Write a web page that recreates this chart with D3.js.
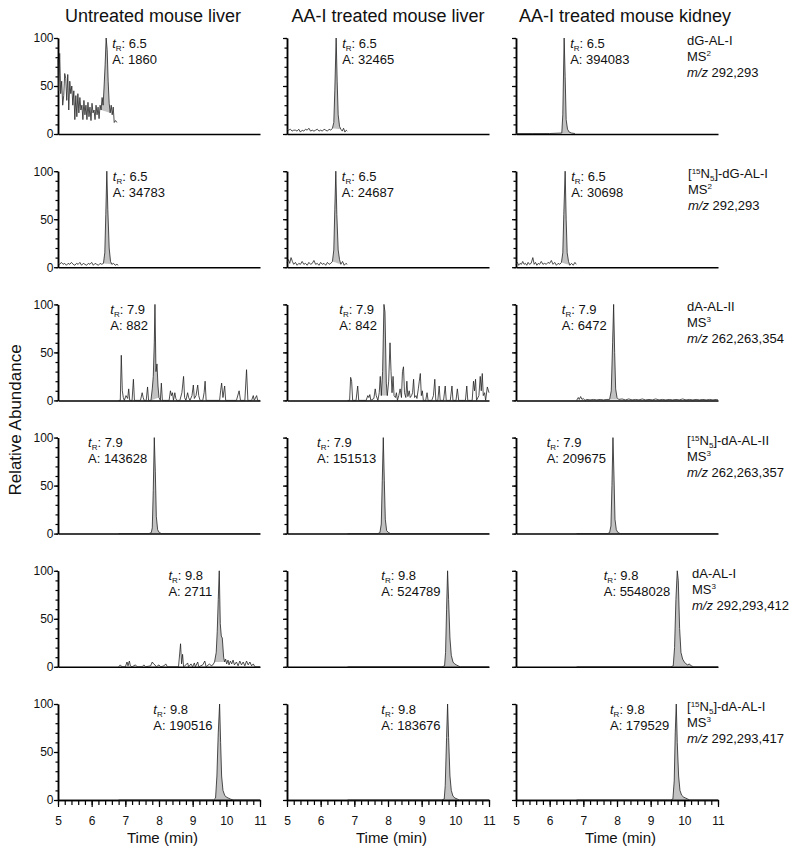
<!DOCTYPE html>
<html>
<head>
<meta charset="utf-8">
<script src="https://d3js.org/d3.v7.min.js"></script>
<style>
  body { margin: 0; background: #fff; }
  svg text { font-family: "Liberation Sans", Arial, sans-serif; fill: #111; }
</style>
</head>
<body>
<svg id="chart" width="800" height="856"></svg>
<script>
// ---- data ----
const samples = ["Untreated mouse liver", "AA-I treated mouse liver", "AA-I treated mouse kidney"];
const adducts = ["dG-AL-I", "[15N5]-dG-AL-I", "dA-AL-II", "[15N5]-dA-AL-II", "dA-AL-I", "[15N5]-dA-AL-I"];
const msLevels = ["2", "2", "3", "3", "3", "3"];
const mzValues = ["292,293", "292,293", "262,263,354", "262,263,357", "292,293,412", "292,293,417"];
const retention = ["6.5", "6.5", "7.9", "7.9", "9.8", "9.8"];
const peakAreas = [
  [1860, 32465, 394083],
  [34783, 24687, 30698],
  [882, 842, 6472],
  [143628, 151513, 209675],
  [2711, 524789, 5548028],
  [190516, 183676, 179529]
];
// integrated window (min) of each peak
const peakWindows = [
  [[6.28, 6.55], [6.35, 6.60], [6.36, 6.65]],
  [[6.35, 6.60], [6.35, 6.60], [6.35, 6.60]],
  [[7.76, 8.00], [7.80, 7.98], [7.78, 8.05]],
  [[7.70, 8.08], [7.70, 8.08], [7.72, 8.10]],
  [[9.65, 9.95], [9.60, 10.15], [9.60, 10.28]],
  [[9.62, 10.20], [9.60, 10.12], [9.60, 10.16]]
];
const timeTicks = [5, 6, 7, 8, 9, 10, 11];
const abundanceTicks = [0, 50, 100];

// chromatograms: [time (min), relative abundance]
const dGAL1_untreated = [[5.00,78],[5.02,45],[5.05,84],[5.08,42],[5.11,55],[5.14,30],[5.17,40],[5.20,63],[5.23,58],[5.26,35],[5.29,62],[5.32,25],[5.35,55],[5.38,42],[5.41,50],[5.44,30],[5.47,45],[5.50,15],[5.53,40],[5.56,18],[5.59,42],[5.62,22],[5.65,38],[5.68,25],[5.71,30],[5.74,15],[5.77,35],[5.80,20],[5.83,30],[5.86,15],[5.89,33],[5.92,18],[5.95,28],[5.98,14],[6.01,32],[6.04,22],[6.07,25],[6.10,15],[6.13,30],[6.16,20],[6.19,28],[6.22,16],[6.25,30],[6.28,25],[6.31,38],[6.34,30],[6.37,50],[6.40,72],[6.43,100],[6.46,88],[6.49,55],[6.52,32],[6.55,22],[6.58,30],[6.61,20],[6.64,28],[6.67,12],[6.71,14],[6.75,12]];
const dGAL1_liver = [[5.00,5],[5.05,4],[5.10,5],[5.15,3],[5.20,4],[5.25,4],[5.30,3],[5.35,5],[5.40,2],[5.45,4],[5.50,3],[5.55,5],[5.60,4],[5.65,6],[5.70,3],[5.75,4],[5.80,3],[5.85,4],[5.90,5],[5.95,3],[6.00,4],[6.05,3],[6.10,5],[6.15,4],[6.20,3],[6.25,5],[6.30,4],[6.35,6],[6.39,12],[6.42,45],[6.46,100],[6.49,55],[6.52,20],[6.56,8],[6.60,5],[6.64,3],[6.68,6],[6.72,2],[6.76,4],[6.79,3]];
const dGAL1_kidney = [[5.00,0.5],[5.50,0.5],[6.00,0.5],[6.36,1],[6.39,20],[6.43,100],[6.46,60],[6.49,15],[6.53,5],[6.58,2],[6.65,1],[6.75,0.5]];

const n5dGAL1_untreated = [[5.00,4],[5.05,3],[5.10,5],[5.15,3],[5.20,4],[5.25,2],[5.30,4],[5.35,3],[5.40,5],[5.45,3],[5.50,2],[5.55,4],[5.60,3],[5.65,5],[5.70,2],[5.75,4],[5.80,3],[5.85,2],[5.90,4],[5.95,3],[6.00,5],[6.05,2],[6.10,4],[6.15,3],[6.20,2],[6.25,4],[6.30,3],[6.35,4],[6.39,15],[6.42,55],[6.45,100],[6.48,60],[6.52,20],[6.56,6],[6.60,3],[6.65,4],[6.70,2],[6.75,3],[6.79,2]];
const n5dGAL1_liver = [[5.00,5],[5.04,8],[5.08,4],[5.12,10],[5.16,6],[5.20,3],[5.25,5],[5.30,2],[5.35,4],[5.40,3],[5.45,6],[5.50,3],[5.55,4],[5.60,2],[5.65,5],[5.70,3],[5.75,4],[5.80,7],[5.85,3],[5.90,4],[5.95,2],[6.00,5],[6.05,3],[6.10,4],[6.15,2],[6.20,5],[6.25,3],[6.30,4],[6.35,6],[6.39,18],[6.42,60],[6.45,100],[6.48,55],[6.52,18],[6.56,8],[6.60,3],[6.65,6],[6.70,2],[6.75,4],[6.79,3]];
const n5dGAL1_kidney = [[5.00,3],[5.04,5],[5.08,2],[5.12,4],[5.16,3],[5.20,6],[5.24,3],[5.28,4],[5.32,2],[5.36,5],[5.40,3],[5.45,4],[5.50,10],[5.54,3],[5.58,5],[5.62,2],[5.66,4],[5.70,3],[5.75,6],[5.80,3],[5.85,4],[5.90,3],[5.95,5],[6.00,4],[6.05,7],[6.10,3],[6.15,5],[6.20,2],[6.25,4],[6.30,3],[6.35,5],[6.39,15],[6.42,55],[6.46,100],[6.49,50],[6.52,15],[6.56,6],[6.60,2],[6.65,4],[6.70,2],[6.75,5],[6.79,3]];

const dAAL2_untreated = [[6.80,0],[6.85,0],[6.88,47],[6.91,10],[6.94,3],[6.97,0],[7.02,5],[7.07,2],[7.10,12],[7.13,0],[7.20,0],[7.24,22],[7.27,0],[7.45,0],[7.50,8],[7.53,3],[7.56,0],[7.62,0],[7.66,14],[7.69,0],[7.76,0],[7.80,12],[7.83,25],[7.86,60],[7.88,100],[7.91,30],[7.94,38],[7.97,15],[8.00,3],[8.04,0],[8.07,18],[8.10,0],[8.30,0],[8.34,10],[8.37,5],[8.40,8],[8.43,0],[8.47,8],[8.50,2],[8.53,0],[8.62,0],[8.68,8],[8.73,25],[8.76,3],[8.80,0],[8.85,8],[8.88,3],[8.92,0],[8.98,5],[9.02,16],[9.05,2],[9.10,5],[9.15,16],[9.18,5],[9.22,0],[9.30,0],[9.34,8],[9.37,20],[9.40,0],[9.60,0],[9.80,0],[9.83,10],[9.86,18],[9.90,3],[9.95,15],[9.98,0],[10.30,0],[10.38,10],[10.42,0],[10.55,0],[10.60,32],[10.64,0],[10.75,0],[10.80,5],[10.83,0],[10.90,5],[10.93,0],[11.00,0]];
const dAAL2_liver = [[6.80,0],[6.86,0],[6.89,24],[6.92,20],[6.95,0],[7.05,0],[7.10,15],[7.13,0],[7.35,0],[7.40,5],[7.43,3],[7.46,6],[7.49,0],[7.58,2],[7.62,12],[7.65,5],[7.70,0],[7.74,8],[7.77,25],[7.80,5],[7.84,30],[7.88,100],[7.91,92],[7.95,18],[7.98,5],[8.02,20],[8.06,60],[8.09,30],[8.12,8],[8.15,25],[8.18,5],[8.22,3],[8.25,8],[8.28,0],[8.32,5],[8.36,12],[8.40,3],[8.43,30],[8.46,35],[8.49,8],[8.53,3],[8.56,20],[8.59,4],[8.63,10],[8.66,3],[8.70,5],[8.73,8],[8.76,22],[8.79,3],[8.83,5],[8.86,2],[8.90,12],[8.93,20],[8.96,28],[8.99,5],[9.02,10],[9.05,0],[9.12,0],[9.16,8],[9.19,0],[9.30,0],[9.35,5],[9.39,22],[9.42,0],[9.48,0],[9.52,15],[9.55,0],[9.65,0],[9.70,15],[9.73,0],[9.85,0],[9.90,15],[9.93,0],[10.02,0],[10.06,12],[10.10,0],[10.30,0],[10.34,15],[10.37,0],[10.50,0],[10.54,20],[10.57,10],[10.60,22],[10.63,0],[10.70,5],[10.74,25],[10.77,10],[10.80,28],[10.83,5],[10.87,8],[10.90,0],[10.95,14],[11.00,8]];
const dAAL2_kidney = [[6.80,0],[6.85,3],[6.88,1],[6.92,4],[6.96,1],[7.00,2],[7.05,0],[7.10,1],[7.20,0.5],[7.30,1],[7.40,0.5],[7.50,1],[7.60,0.5],[7.70,1],[7.78,1],[7.83,10],[7.87,60],[7.90,100],[7.93,50],[7.96,12],[8.00,3],[8.05,1],[8.15,1.5],[8.25,0.5],[8.35,1.5],[8.45,0.5],[8.55,1],[8.65,0.5],[8.75,1.5],[8.85,0.5],[8.95,1],[9.05,0.5],[9.15,1.5],[9.25,0.5],[9.35,1],[9.45,0.5],[9.55,1],[9.65,0.5],[9.75,1],[9.85,0.5],[9.95,1.5],[10.05,0.5],[10.15,1],[10.25,0.5],[10.35,1],[10.45,0.5],[10.55,1],[10.65,0.5],[10.75,1],[10.85,0.5],[10.95,1],[11.00,0.5]];

const n5dAAL2_untreated = [[6.80,0],[7.70,0],[7.77,1],[7.80,6],[7.83,45],[7.86,100],[7.89,65],[7.92,18],[7.96,4],[8.01,1],[8.08,0],[11.00,0]];
const n5dAAL2_liver = [[6.80,0],[7.70,0],[7.76,1],[7.80,10],[7.83,55],[7.86,100],[7.89,55],[7.92,15],[7.96,3],[8.02,1],[8.08,0],[11.00,0]];
const n5dAAL2_kidney = [[6.80,0],[7.72,0],[7.78,1],[7.82,8],[7.85,50],[7.88,100],[7.91,60],[7.94,15],[7.98,4],[8.03,1],[8.10,0],[11.00,0]];

const dAAL1_untreated = [[6.80,0],[6.85,2],[6.90,0],[7.00,0],[7.05,5],[7.08,1],[7.12,6],[7.15,1],[7.20,0],[7.30,2],[7.35,0],[7.50,0],[7.55,2],[7.60,0],[7.75,1],[7.80,5],[7.84,3],[7.88,2],[7.92,0],[8.00,2],[8.05,0],[8.15,1],[8.20,3],[8.25,0],[8.50,0],[8.58,0],[8.64,24],[8.67,3],[8.70,13],[8.73,0],[8.80,2],[8.85,4],[8.88,0],[8.95,3],[9.00,0],[9.05,4],[9.08,0],[9.15,5],[9.18,0],[9.30,2],[9.36,6],[9.40,0],[9.50,3],[9.55,1],[9.60,2],[9.65,5],[9.70,15],[9.73,37],[9.76,70],[9.79,100],[9.82,45],[9.85,32],[9.88,30],[9.92,10],[9.95,5],[9.98,8],[10.01,3],[10.05,7],[10.08,2],[10.12,6],[10.16,3],[10.20,7],[10.24,2],[10.30,5],[10.35,1],[10.40,6],[10.45,2],[10.50,5],[10.55,1],[10.60,6],[10.65,2],[10.70,5],[10.75,1],[10.80,3],[10.85,0],[11.00,0]];
const dAAL1_liver = [[6.80,0],[9.60,0],[9.68,1],[9.71,15],[9.74,60],[9.77,100],[9.80,70],[9.84,30],[9.88,12],[9.93,5],[9.98,3],[10.03,2],[10.08,1],[10.15,0],[11.00,0]];
const dAAL1_kidney = [[6.80,0],[9.60,0],[9.67,1],[9.71,20],[9.75,70],[9.79,100],[9.82,90],[9.86,40],[9.90,15],[9.95,8],[10.00,5],[10.05,3],[10.10,2],[10.15,3],[10.20,1],[10.28,0],[11.00,0]];

const n5dAAL1_untreated = [[6.80,0],[9.62,0],[9.68,2],[9.72,25],[9.76,70],[9.80,100],[9.83,60],[9.86,25],[9.90,10],[9.95,5],[10.00,3],[10.06,2],[10.12,1],[10.20,0],[11.00,0]];
const n5dAAL1_liver = [[6.80,0],[9.60,0],[9.67,1],[9.70,15],[9.74,65],[9.77,100],[9.80,65],[9.84,25],[9.88,10],[9.93,4],[9.99,2],[10.06,1],[10.12,0],[11.00,0]];
const n5dAAL1_kidney = [[6.80,0],[9.60,0],[9.66,1],[9.70,20],[9.73,70],[9.76,100],[9.79,60],[9.83,25],[9.87,10],[9.92,5],[9.98,3],[10.04,2],[10.10,1],[10.16,0],[11.00,0]];

const traces = [
  [dGAL1_untreated, dGAL1_liver, dGAL1_kidney],
  [n5dGAL1_untreated, n5dGAL1_liver, n5dGAL1_kidney],
  [dAAL2_untreated, dAAL2_liver, dAAL2_kidney],
  [n5dAAL2_untreated, n5dAAL2_liver, n5dAAL2_kidney],
  [dAAL1_untreated, dAAL1_liver, dAAL1_kidney],
  [n5dAAL1_untreated, n5dAAL1_liver, n5dAAL1_kidney]
];

// ---- layout ----
const W = 202, H = 96;
const colX = c => 58 + c * 229;
const rowY = r => 38 + r * 133.2;
const titleShift = [-6, 0, 8];
const labelX = [687, 688, 687, 687, 692, 687];

const svg = d3.select("#chart");

// column titles
svg.selectAll(".coltitle").data(samples).enter().append("text")
  .attr("class", "coltitle")
  .attr("x", (d, i) => colX(i) + W / 2 + titleShift[i])
  .attr("y", 22)
  .attr("text-anchor", "middle")
  .attr("font-size", 18)
  .text(d => d);

// y title
svg.append("text")
  .attr("transform", "translate(21,420) rotate(-90)")
  .attr("text-anchor", "middle")
  .attr("font-size", 17)
  .text("Relative Abundance");

function styleAxis(sel) {
  sel.select(".domain").attr("stroke", "#000").attr("stroke-width", 1.5);
  sel.selectAll(".tick line").attr("stroke", "#000").attr("stroke-width", 1.2);
  sel.selectAll(".tick text").attr("font-size", 12).attr("fill", "#111")
    .attr("font-family", "Liberation Sans, Arial, sans-serif");
}

traces.forEach((row, r) => {
  row.forEach((data, c) => {
    const g = svg.append("g");
    const x = d3.scaleLinear().domain([5, 11]).range([colX(c), colX(c) + W]);
    const y = d3.scaleLinear().domain([0, 100]).range([rowY(r) + H, rowY(r)]);

    // integrated peak area
    const win = peakWindows[r][c];
    const pts = data.filter(d => d[0] >= win[0] && d[0] <= win[1]);
    const a = pts[0], b = pts[pts.length - 1];
    const base = t => a[1] + (b[1] - a[1]) * (t - a[0]) / (b[0] - a[0]);
    g.append("path").datum(pts)
      .attr("d", d3.area().x(d => x(d[0])).y0(d => y(base(d[0]))).y1(d => y(d[1])))
      .attr("fill", "#c2c2c2");

    // y axis: minor + major ticks
    g.append("g").attr("transform", `translate(${colX(c)},0)`)
      .call(d3.axisLeft(y).tickValues(d3.range(0, 101, 10)).tickSize(2.5).tickSizeOuter(0).tickFormat(""))
      .call(styleAxis);
    g.append("g").attr("transform", `translate(${colX(c)},0)`)
      .call(d3.axisLeft(y).tickValues(abundanceTicks).tickSize(4).tickPadding(0.5).tickSizeOuter(0)
        .tickFormat(c === 0 ? d3.format("d") : ""))
      .call(styleAxis);

    // x axis
    const xg = g.append("g").attr("transform", `translate(0,${rowY(r) + H})`);
    if (r === traces.length - 1) {
      xg.call(d3.axisBottom(x).tickValues(d3.range(5, 11.01, 0.2)).tickSize(5).tickSizeOuter(0).tickFormat(""))
        .call(styleAxis);
      g.append("g").attr("transform", `translate(0,${rowY(r) + H})`)
        .call(d3.axisBottom(x).tickValues(timeTicks).tickSize(7).tickPadding(9.5).tickSizeOuter(0).tickFormat(d3.format("d")))
        .call(styleAxis);
      g.append("text")
        .attr("x", colX(c) + W / 2 + 3.5)
        .attr("y", 843)
        .attr("text-anchor", "middle")
        .attr("font-size", 15)
        .text("Time (min)");
    } else {
      xg.call(d3.axisBottom(x).tickValues([]).tickSizeOuter(0)).call(styleAxis);
    }

    // chromatogram trace
    g.append("path").datum(data)
      .attr("d", d3.line().x(d => x(d[0])).y(d => y(d[1])))
      .attr("fill", "none")
      .attr("stroke", "#222")
      .attr("stroke-width", 0.8)
      .attr("stroke-linejoin", "round");

    // peak annotation
    const peak = data.reduce((m, d) => d[1] > m[1] ? d : m, data[0]);
    const px = x(peak[0]);
    const ann = g.append("g");
    const t1 = ann.append("text").attr("y", rowY(r) + 9.5).attr("font-size", 13);
    t1.append("tspan").attr("font-style", "italic").text("t");
    t1.append("tspan").attr("font-size", 8).attr("dy", 3).text("R");
    t1.append("tspan").attr("dy", -3).text(": " + retention[r]);
    const t2 = ann.append("text").attr("y", rowY(r) + 25.5).attr("font-size", 13)
      .text("A: " + peakAreas[r][c]);
    let sx;
    if (r < 2) {
      sx = px + 6;
    } else {
      const w = Math.max(t1.node().getComputedTextLength(), t2.node().getComputedTextLength());
      sx = px - 7 - w;
    }
    t1.attr("x", sx);
    t2.attr("x", sx);
  });

  // analyte label on the right
  const lx = labelX[r], ly = rowY(r);
  const l1 = svg.append("text").attr("x", lx).attr("y", ly + 7).attr("font-size", 13);
  const name = adducts[r];
  if (name.startsWith("[15N5]")) {
    l1.append("tspan").text("[");
    l1.append("tspan").attr("font-size", 8).attr("dy", -4).text("15");
    l1.append("tspan").attr("dy", 4).text("N");
    l1.append("tspan").attr("font-size", 8).attr("dy", 3).text("5");
    l1.append("tspan").attr("dy", -3).text("]" + name.slice(6));
  } else {
    l1.text(name);
  }
  const l2 = svg.append("text").attr("x", lx).attr("y", ly + 23).attr("font-size", 13);
  l2.append("tspan").text("MS");
  l2.append("tspan").attr("font-size", 8).attr("dy", -5).text(msLevels[r]);
  const l3 = svg.append("text").attr("x", lx).attr("y", ly + 39).attr("font-size", 13);
  l3.append("tspan").attr("font-style", "italic").text("m/z");
  l3.append("tspan").text(" " + mzValues[r]);
});
</script>
</body>
</html>
